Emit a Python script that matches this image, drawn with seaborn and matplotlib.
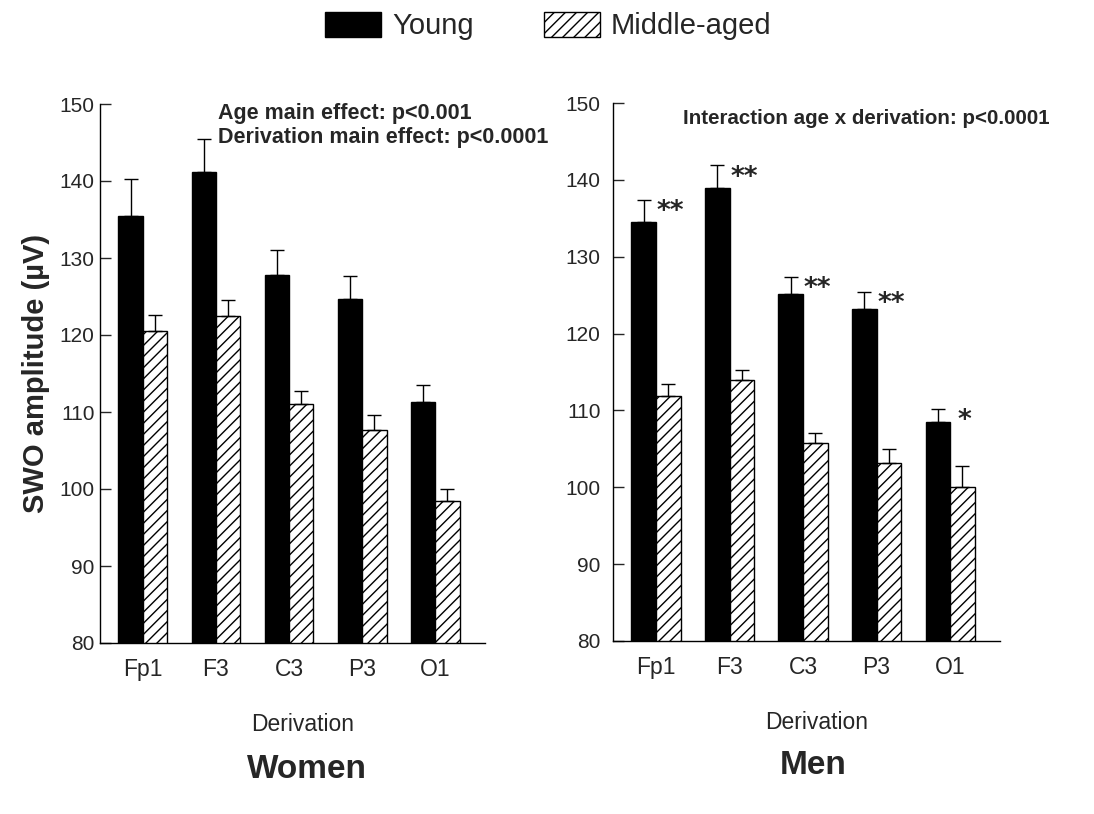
import numpy as np
import pandas as pd
import matplotlib
matplotlib.use("Agg")
import matplotlib.pyplot as plt
import seaborn as sns
from matplotlib.patches import Patch

# ---------------- data ----------------
derivations = ["Fp1", "F3", "C3", "P3", "O1"]
groups = ["Young", "Middle-aged"]

women_young = [135.4, 141.2, 127.8, 124.7, 111.3]
women_young_se = [4.9, 4.3, 3.2, 2.9, 2.2]
women_middle = [120.5, 122.5, 111.1, 107.7, 98.5]
women_middle_se = [2.1, 2.0, 1.6, 1.9, 1.5]

men_young = [134.5, 138.9, 125.2, 123.2, 108.5]
men_young_se = [2.9, 3.0, 2.2, 2.2, 1.7]
men_middle = [111.9, 113.9, 105.8, 103.2, 100.0]
men_middle_se = [1.5, 1.3, 1.2, 1.8, 2.8]
men_sig = ["**", "**", "**", "**", "*"]

yticks = [80, 90, 100, 110, 120, 130, 140, 150]

# ---------------- style ----------------
sns.set_style("ticks")
plt.rcParams["font.family"] = ["Liberation Sans", "DejaVu Sans"]
plt.rcParams["hatch.color"] = "black"
plt.rcParams["hatch.linewidth"] = 1.0

W, H = 1094, 814
fig = plt.figure(figsize=(W / 100, H / 100), dpi=100)

def frac_box(x0, x1, ytop, ybot):
    return [x0 / W, 1 - ybot / H, (x1 - x0) / W, (ybot - ytop) / H]

ax_w = fig.add_axes(frac_box(100, 485, 104, 643))
ax_m = fig.add_axes(frac_box(613, 1000, 103, 641))


def make_df(young, middle):
    return pd.DataFrame({
        "Derivation": derivations * 2,
        "amp": list(young) + list(middle),
        "Group": [groups[0]] * len(derivations) + [groups[1]] * len(derivations),
    })


def draw_panel(ax, young, young_se, middle, middle_se, xlim, xlabel_pos, ypad):
    df = make_df(young, middle)
    sns.barplot(data=df, x="Derivation", y="amp", hue="Group",
                order=derivations, hue_order=groups,
                palette=["black", "white"], edgecolor="black", linewidth=1.0,
                width=0.667, errorbar=None, legend=False, ax=ax, zorder=2)
    for bar in ax.containers[1]:
        bar.set_hatch("///")
    for cont, se in zip(ax.containers, [young_se, middle_se]):
        xs = [b.get_x() + b.get_width() / 2 for b in cont]
        tops = [b.get_height() for b in cont]
        ax.errorbar(xs, tops, yerr=[np.zeros(len(se)), se], fmt="none",
                    ecolor="black", elinewidth=1.0, capsize=4.7, capthick=1.0,
                    zorder=3)
    ax.set_ylim(80, 150)
    ax.set_xlim(*xlim)
    ax.set_yticks(yticks)
    ax.tick_params(axis="y", direction="in", length=8, width=1, labelsize=15, pad=ypad)
    ax.tick_params(axis="x", length=0, labelsize=16.5, pad=11)
    ax.set_xlabel("Derivation", fontsize=16.5)
    ax.xaxis.set_label_coords(*xlabel_pos)
    ax.xaxis.label.set_verticalalignment("center")
    ax.set_ylabel("")
    for s in ["top", "right"]:
        ax.spines[s].set_visible(False)
    for s in ["left", "bottom"]:
        ax.spines[s].set_linewidth(1.0)
        ax.spines[s].set_color("black")
    ax.set_facecolor("white")


draw_panel(ax_w, women_young, women_young_se, women_middle, women_middle_se,
           (-0.585, 4.68), (0.526, -0.152), 4)
draw_panel(ax_m, men_young, men_young_se, men_middle, men_middle_se,
           (-0.585, 4.68), (0.525, -0.151), 9)

ax_w.set_ylabel("SWO amplitude (\u00b5V)", fontsize=21, fontweight="bold", labelpad=7)

# annotations
ax_w.text(0.306, 0.983, "Age main effect: p<0.001", transform=ax_w.transAxes,
          fontsize=15.5, fontweight="bold", ha="left", va="center", clip_on=False)
ax_w.text(0.306, 0.937, "Derivation main effect: p<0.0001", transform=ax_w.transAxes,
          fontsize=15.5, fontweight="bold", ha="left", va="center", clip_on=False)
ax_m.text(0.181, 0.972, "Interaction age x derivation: p<0.0001", transform=ax_m.transAxes,
          fontsize=14.8, fontweight="bold", ha="left", va="center", clip_on=False)

# significance stars (men)
for bar_y, bar_m, se, sig in zip(ax_m.containers[0], ax_m.containers[1], men_young_se, men_sig):
    x = bar_m.get_x() + bar_m.get_width() / 2 + 0.03
    y = bar_y.get_height() + se
    ax_m.text(x, y - 1.6, sig, fontsize=19, fontweight="bold", ha="center", va="center",
              family=["DejaVu Sans"])

# panel titles
fig.text(307 / W, 1 - 770 / H, "Women", fontsize=24, fontweight="bold",
         ha="center", va="center")
fig.text(813 / W, 1 - 765 / H, "Men", fontsize=24, fontweight="bold",
         ha="center", va="center")

# legend
handles = [Patch(facecolor="black", edgecolor="black", linewidth=1.0),
           Patch(facecolor="white", edgecolor="black", hatch="///", linewidth=1.0)]
fig.legend(handles=handles, labels=groups, loc="center",
           bbox_to_anchor=(548 / W, 1 - 26 / H), ncol=2, frameon=False,
           fontsize=21, handlelength=1.95, handleheight=0.96,
           handletextpad=0.36, columnspacing=2.4)

fig.savefig("out.png", dpi=100, facecolor="white")
